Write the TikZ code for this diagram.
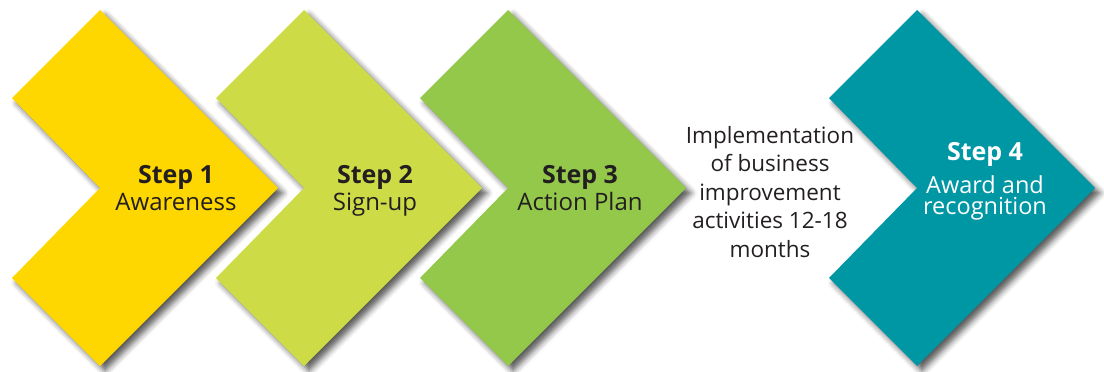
\documentclass[tikz,border=0pt]{standalone}
\usepackage{fontspec}
\setmainfont{Open Sans}
\usepackage{tikz}
\usetikzlibrary{positioning, shadows.blur}
\definecolor{stepyellow}{RGB}{254,214,0}
\definecolor{steplime}{RGB}{205,220,70}
\definecolor{stepgreen}{RGB}{148,200,74}
\definecolor{stepteal}{RGB}{0,151,164}
\definecolor{txtgray}{RGB}{35,31,32}
\newcommand{\steplbl}[1]{{\fontsize{25}{27}\selectfont\bfseries #1}}

\begin{document}
\begin{tikzpicture}[x=1pt,y=-1pt,chev/.style={blur shadow={shadow xshift=5pt,shadow
                yshift=-5pt,shadow blur radius=6pt,shadow opacity=65}},
                steptext/.style={align=center,text=txtgray,inner sep=0pt,anchor=base},
                every node/.style={font=\fontsize{24}{27}\selectfont}]
                \useasboundingbox (0,0) rectangle (1104,372);
                \foreach \x/\col in {100/stepyellow,304/steplime,508/stepgreen,917/stepteal}
                \fill[chev,fill=\col] (\x,10) -- ++(178,178) -- ++(-178,178) -- ++(-88,-88)
                -- ++(88,-90) -- ++(-88,-90) -- cycle;
                \node[steptext] (s1) at (176,210) {\steplbl{Step 1}\\Awareness};
                \node[steptext] (s2) at (375,210) {\steplbl{Step 2}\\Sign-up};
                \node[steptext] (s3) at (580,210) {\steplbl{Step 3}\\Action Plan};
                \node[steptext,text=white,font=\fontsize{23.5}{21}\selectfont] (s4) at (985,214)
                {\steplbl{Step 4}\\[8pt]Award and\\recognition};
                \node[steptext,font=\fontsize{22.5}{28.5}\selectfont] (impl) at (770,257)
                {Implementation\\of business\\improvement\\activities 12-18\\months};
            \end{tikzpicture}
\end{document}
